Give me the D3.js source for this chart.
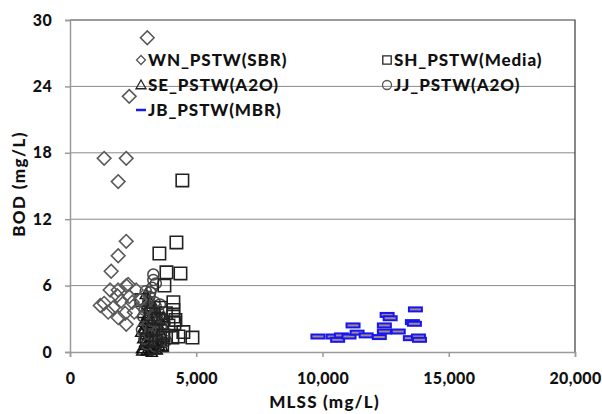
<!DOCTYPE html>
<html>
<head>
<meta charset="utf-8">
<script src="https://cdn.jsdelivr.net/npm/d3@7"></script>
<style>
  html, body { margin: 0; padding: 0; background: #fff; }
  svg text { font-family: Lato, "Open Sans", sans-serif; font-weight: 900; fill: #111; }
</style>
</head>
<body>
<svg id="chart" width="602" height="414"></svg>
<script>
// WN_PSTW (SBR) — open diamonds
const wnX = [3060, 2346, 1352, 2227, 1908, 2227, 1908, 1630, 2306, 1590, 1908, 2227, 2624,
             1352, 1710, 2028, 2346, 2187, 2545, 2227, 2783, 1869, 1511, 1908, 2465, 1200];
const wnY = [28.4, 23.1, 17.5, 17.5, 15.4, 10.0, 8.7, 7.3, 6.1, 5.6, 5.6, 6.0, 5.6,
             4.4, 4.0, 4.6, 5.0, 3.5, 3.6, 2.5, 4.7, 5.1, 3.6, 3.1, 4.5, 4.2];

// SH_PSTW (Media) — open squares
const shX = [4450, 4215, 3540, 3820, 4375, 3740, 2825, 4095, 4095, 4175, 4490, 4850, 4055, 4295,
             3300, 3500, 3700, 3600, 3900, 3400, 3800, 3650, 3200, 4095, 4135, 3050, 3350];
const shY = [15.5, 9.9, 8.9, 7.2, 7.1, 6.0, 4.7, 4.5, 3.8, 2.9, 1.8, 1.3, 1.3, 1.4,
             2.0, 3.0, 1.5, 4.0, 2.4, 1.0, 3.5, 0.6, 3.4, 3.2, 2.6, 1.1, 0.4];

// SE_PSTW (A2O) — open triangles
const seX = [2850, 2900, 2950, 3000, 3050, 3100, 3150, 3200, 3250, 3300, 3350, 3400, 3450, 3500,
             3550, 3600, 2880, 2980, 3080, 3180, 3280, 3380, 3480, 3580, 2920, 3020, 3120, 3220,
             3320, 3420, 3520, 2960, 3060, 3160, 3260, 3360, 3460, 3000, 3100, 3200, 3300, 3400,
             3650, 3700, 3750, 3680, 3620, 2820, 2860, 3140, 3240, 3440, 3540, 3040, 3340, 3190];
const seY = [0.3, 1.2, 2.1, 0.6, 3.0, 1.5, 0.2, 2.6, 1.0, 3.8, 0.5, 2.2, 1.4, 0.8,
             2.9, 1.7, 3.5, 0.9, 2.4, 4.1, 1.8, 0.4, 3.2, 1.1, 2.7, 4.5, 0.7, 1.9,
             2.5, 3.6, 0.6, 1.6, 3.3, 1.2, 0.3, 4.0, 2.0, 5.2, 4.8, 3.0, 1.4, 2.8,
             0.5, 1.3, 2.2, 3.1, 0.9, 1.8, 0.1, 3.9, 0.0, 0.2, 2.3, 0.1, 1.0, 0.6];

// JJ_PSTW (A2O) — open circles
const jjX = [2800, 2900, 3000, 3100, 3200, 3300, 3400, 3500, 3600, 3700, 2850, 2950, 3050, 3150,
             3250, 3350, 3450, 3550, 3650, 3050, 3150, 3250, 3350, 3450, 3300, 3400, 3200, 3100, 2950,
             3750, 3800, 3560, 3380, 3180];
const jjY = [4.8, 3.2, 5.5, 2.4, 4.0, 7.0, 6.2, 3.6, 2.2, 1.5, 2.0, 1.2, 3.9, 5.0,
             2.8, 4.5, 1.8, 0.9, 3.0, 0.7, 1.6, 5.8, 3.3, 2.6, 6.5, 4.1, 2.1, 4.6, 3.8,
             2.6, 1.0, 4.3, 0.5, 5.4];

// JB_PSTW (MBR) — dash markers
const jbX = [9820, 10420, 10600, 10750, 11050, 11210, 11370, 11730, 12250, 12450, 12450, 12560,
             12680, 13000, 13680, 13560, 13640, 13480, 13800, 13840];
const jbY = [1.4, 1.4, 1.1, 1.5, 1.4, 2.4, 1.75, 1.5, 1.35, 2.4, 1.85, 3.35,
             3.05, 1.85, 3.85, 2.7, 2.55, 1.25, 1.4, 1.1];

const xTicks = [0, 5000, 10000, 15000, 20000];
const yTicks = [0, 6, 12, 18, 24, 30];
const legendItems = [
  { name: "WN_PSTW(SBR)", kind: "diamond", col: 0, row: 0 },
  { name: "SH_PSTW(Media)", kind: "square", col: 1, row: 0 },
  { name: "SE_PSTW(A2O)", kind: "triangle", col: 0, row: 1 },
  { name: "JJ_PSTW(A2O)", kind: "circle", col: 1, row: 1 },
  { name: "JB_PSTW(MBR)", kind: "dash", col: 0, row: 2 }
];

const svg = d3.select("#chart");
const m = { left: 70, right: 575, top: 20, bottom: 352 };

const x = d3.scaleLinear().domain([0, 20000]).range([m.left, m.right]);
const y = d3.scaleLinear().domain([0, 30]).range([m.bottom, m.top]);

// gridlines
svg.append("g").selectAll("line").data(yTicks.filter(t => t > 0 && t < 30)).join("line")
  .attr("x1", m.left).attr("x2", m.right)
  .attr("y1", d => y(d)).attr("y2", d => y(d))
  .attr("stroke", "#8a8a8a").attr("stroke-width", 1);

// plot frame (top/right)
svg.append("path")
  .attr("d", `M${m.left},${m.top}H${m.right}V${m.bottom}`)
  .attr("fill", "none").attr("stroke", "#3a3a3a").attr("stroke-width", 1.2);

// axes
const fmt = d3.format(",");
const xAxis = svg.append("g").attr("transform", `translate(0,${m.bottom})`)
  .call(d3.axisBottom(x).tickValues(xTicks).tickFormat(fmt).tickSize(5).tickPadding(16));
const yAxis = svg.append("g").attr("transform", `translate(${m.left},0)`)
  .call(d3.axisLeft(y).tickValues(yTicks).tickSize(5).tickPadding(13));
[xAxis, yAxis].forEach(a => {
  a.select(".domain").attr("stroke", "#9a9a9a").attr("stroke-width", 1.5);
  a.selectAll(".tick line").attr("stroke", "#9a9a9a").attr("stroke-width", 1.5);
  a.selectAll(".tick text").attr("font-size", 16).attr("font-family", "Lato, sans-serif")
    .attr("font-weight", 900).attr("fill", "#111").attr("letter-spacing", 0.3);
});

// axis titles
svg.append("text").attr("x", (m.left + m.right) / 2 + 2).attr("y", 408)
  .attr("text-anchor", "middle").attr("font-size", 17).attr("letter-spacing", 1.2)
  .text("MLSS (mg/L)");
svg.append("text").attr("transform", `translate(25,${(m.top + m.bottom) / 2 - 2}) rotate(-90)`)
  .attr("text-anchor", "middle").attr("font-size", 17).attr("letter-spacing", 1.4)
  .text("BOD (mg/L)");

// marker shapes
const sym = {
  diamond: (s) => `M0,${-s}L${s},0L0,${s}L${-s},0Z`,
  square: (s) => `M${-s},${-s}H${s}V${s}H${-s}Z`,
  triangle: (s) => `M0,${-s}L${s},${s * 0.75}H${-s}Z`
};

const pts = (xs, ys) => xs.map((v, i) => [v, ys[i]]);
const plot = svg.append("g");

// SE triangles
plot.append("g").selectAll("path").data(pts(seX, seY)).join("path")
  .attr("transform", d => `translate(${x(d[0])},${y(d[1])})`)
  .attr("d", sym.triangle(5.5)).attr("fill", "none").attr("stroke", "#111").attr("stroke-width", 1.5);

// JJ circles
plot.append("g").selectAll("circle").data(pts(jjX, jjY)).join("circle")
  .attr("cx", d => x(d[0])).attr("cy", d => y(d[1])).attr("r", 5.5)
  .attr("fill", "none").attr("stroke", "#444").attr("stroke-width", 1.5);

// SH squares
plot.append("g").selectAll("path").data(pts(shX, shY)).join("path")
  .attr("transform", d => `translate(${x(d[0])},${y(d[1])})`)
  .attr("d", sym.square(6.2)).attr("fill", "none").attr("stroke", "#222").attr("stroke-width", 1.6);

// WN diamonds
plot.append("g").selectAll("path").data(pts(wnX, wnY)).join("path")
  .attr("transform", d => `translate(${x(d[0])},${y(d[1])})`)
  .attr("d", sym.diamond(6.8)).attr("fill", "none").attr("stroke", "#5a5a5a").attr("stroke-width", 1.6);

// JB dashes
plot.append("g").selectAll("rect").data(pts(jbX, jbY)).join("rect")
  .attr("x", d => x(d[0]) - 6.5).attr("y", d => y(d[1]) - 2)
  .attr("width", 13).attr("height", 4)
  .attr("fill", "#a48890").attr("stroke", "#1616f0").attr("stroke-width", 2);

// legend
const lg = svg.append("g");
legendItems.forEach(it => {
  const lx = it.col === 0 ? 141 : 387;
  const ly = 60 + it.row * 25;
  const g = lg.append("g").attr("transform", `translate(${lx},${ly})`);
  if (it.kind === "circle") {
    g.append("circle").attr("r", 4.5).attr("fill", "none").attr("stroke", "#555").attr("stroke-width", 1.3);
  } else if (it.kind === "dash") {
    g.append("line").attr("x1", -5).attr("x2", 5).attr("stroke", "#1a1af0").attr("stroke-width", 2.5);
  } else {
    const s = it.kind === "diamond" ? 4.5 : it.kind === "square" ? 4.2 : 5;
    g.append("path").attr("d", sym[it.kind](s)).attr("fill", "none")
      .attr("stroke", it.kind === "diamond" ? "#555" : "#222").attr("stroke-width", 1.3);
  }
  g.append("text").attr("x", 7).attr("y", 6).attr("font-size", 17).attr("letter-spacing", 0.9)
    .text(it.name);
});
</script>
</body>
</html>
